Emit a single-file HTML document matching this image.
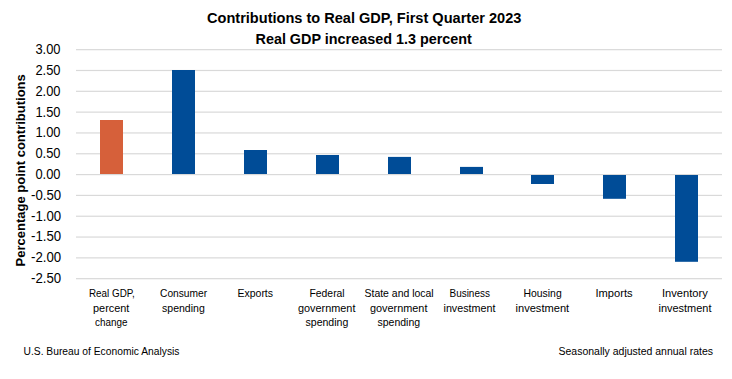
<!DOCTYPE html>
<html><head><meta charset="utf-8"><title>Contributions to Real GDP</title><style>
html,body{margin:0;padding:0;background:#fff;}
body{width:732px;height:379px;overflow:hidden;}
svg{display:block;}
text{font-family:"Liberation Sans", sans-serif;}
</style></head><body>
<svg width="732" height="379" viewBox="0 0 732 379">
<rect width="732" height="379" fill="#fff"/>
<g fill="#d9d9d9"><rect x="76" y="49.06" width="646" height="1.2"/><rect x="76" y="69.88" width="646" height="1.2"/><rect x="76" y="90.70" width="646" height="1.2"/><rect x="76" y="111.52" width="646" height="1.2"/><rect x="76" y="132.34" width="646" height="1.2"/><rect x="76" y="153.16" width="646" height="1.2"/><rect x="76" y="173.98" width="646" height="1.2"/><rect x="76" y="194.80" width="646" height="1.2"/><rect x="76" y="215.62" width="646" height="1.2"/><rect x="76" y="236.44" width="646" height="1.2"/><rect x="76" y="257.26" width="646" height="1.2"/><rect x="76" y="278.08" width="646" height="1.2"/></g>
<g fill="#000" font-size="14"><text x="35.4" y="54.06" textLength="25.12" lengthAdjust="spacingAndGlyphs">3.00</text><text x="35.4" y="74.88" textLength="25.12" lengthAdjust="spacingAndGlyphs">2.50</text><text x="35.4" y="95.70" textLength="25.12" lengthAdjust="spacingAndGlyphs">2.00</text><text x="35.4" y="116.52" textLength="25.12" lengthAdjust="spacingAndGlyphs">1.50</text><text x="35.4" y="137.34" textLength="25.12" lengthAdjust="spacingAndGlyphs">1.00</text><text x="35.4" y="158.16" textLength="25.12" lengthAdjust="spacingAndGlyphs">0.50</text><text x="35.4" y="178.98" textLength="25.12" lengthAdjust="spacingAndGlyphs">0.00</text><text x="31.0" y="199.80" textLength="30.14" lengthAdjust="spacingAndGlyphs">-0.50</text><text x="31.0" y="220.62" textLength="30.14" lengthAdjust="spacingAndGlyphs">-1.00</text><text x="31.0" y="241.44" textLength="30.14" lengthAdjust="spacingAndGlyphs">-1.50</text><text x="31.0" y="262.26" textLength="30.14" lengthAdjust="spacingAndGlyphs">-2.00</text><text x="31.0" y="283.08" textLength="30.14" lengthAdjust="spacingAndGlyphs">-2.50</text></g>
<text fill="#000" transform="translate(25.2,266.5) rotate(-90)" font-weight="bold" font-size="13.2" textLength="192.3" lengthAdjust="spacingAndGlyphs">Percentage point contributions</text>
<rect x="100" y="120.0" width="23" height="54.00" fill="#D6603A"/>
<rect x="172" y="70.0" width="23" height="104.00" fill="#004C97"/>
<rect x="244" y="150.0" width="23" height="24.00" fill="#004C97"/>
<rect x="316" y="155.0" width="23" height="19.00" fill="#004C97"/>
<rect x="388" y="156.9" width="23" height="17.10" fill="#004C97"/>
<rect x="460" y="166.9" width="23" height="7.10" fill="#004C97"/>
<rect x="531" y="175" width="23" height="9.00" fill="#004C97"/>
<rect x="603" y="175" width="23" height="23.80" fill="#004C97"/>
<rect x="675" y="175" width="23" height="86.80" fill="#004C97"/>
<g fill="#000">
<text x="207.0" y="23.0" font-size="14.5" font-weight="bold" textLength="314.37" lengthAdjust="spacingAndGlyphs">Contributions to Real GDP, First Quarter 2023</text>
<text x="255.5" y="43.9" font-size="14.5" font-weight="bold" textLength="216.36" lengthAdjust="spacingAndGlyphs">Real GDP increased 1.3 percent</text>
<text x="23.5" y="354.8" font-size="10.0" textLength="155.95" lengthAdjust="spacingAndGlyphs">U.S. Bureau of Economic Analysis</text>
<text x="558.5" y="354.8" font-size="10.0" textLength="154.51" lengthAdjust="spacingAndGlyphs">Seasonally adjusted annual rates</text>
<text x="89.0" y="296.8" font-size="10.3" textLength="45.85" lengthAdjust="spacingAndGlyphs">Real GDP,</text>
<text x="93.0" y="311.6" font-size="10.3" textLength="36.38" lengthAdjust="spacingAndGlyphs">percent</text>
<text x="95.0" y="326.3" font-size="10.3" textLength="32.41" lengthAdjust="spacingAndGlyphs">change</text>
<text x="160.0" y="296.8" font-size="10.3" textLength="47.11" lengthAdjust="spacingAndGlyphs">Consumer</text>
<text x="162.0" y="311.6" font-size="10.3" textLength="42.79" lengthAdjust="spacingAndGlyphs">spending</text>
<text x="237.5" y="296.8" font-size="10.3" textLength="35.54" lengthAdjust="spacingAndGlyphs">Exports</text>
<text x="309.5" y="296.8" font-size="10.3" textLength="35.17" lengthAdjust="spacingAndGlyphs">Federal</text>
<text x="298.0" y="311.6" font-size="10.3" textLength="57.43" lengthAdjust="spacingAndGlyphs">government</text>
<text x="305.5" y="326.3" font-size="10.3" textLength="42.82" lengthAdjust="spacingAndGlyphs">spending</text>
<text x="364.5" y="296.8" font-size="10.3" textLength="69.17" lengthAdjust="spacingAndGlyphs">State and local</text>
<text x="370.0" y="311.6" font-size="10.3" textLength="57.43" lengthAdjust="spacingAndGlyphs">government</text>
<text x="377.5" y="326.3" font-size="10.3" textLength="42.6" lengthAdjust="spacingAndGlyphs">spending</text>
<text x="449.5" y="296.8" font-size="10.3" textLength="40.41" lengthAdjust="spacingAndGlyphs">Business</text>
<text x="443.5" y="311.6" font-size="10.3" textLength="51.99" lengthAdjust="spacingAndGlyphs">investment</text>
<text x="523.5" y="296.8" font-size="10.3" textLength="38.2" lengthAdjust="spacingAndGlyphs">Housing</text>
<text x="515.5" y="311.6" font-size="10.3" textLength="53.67" lengthAdjust="spacingAndGlyphs">investment</text>
<text x="595.5" y="296.8" font-size="10.3" textLength="37.09" lengthAdjust="spacingAndGlyphs">Imports</text>
<text x="662.0" y="296.8" font-size="10.3" textLength="45.79" lengthAdjust="spacingAndGlyphs">Inventory</text>
<text x="658.5" y="311.6" font-size="10.3" textLength="52.99" lengthAdjust="spacingAndGlyphs">investment</text>
</g>
</svg>
</body></html>
